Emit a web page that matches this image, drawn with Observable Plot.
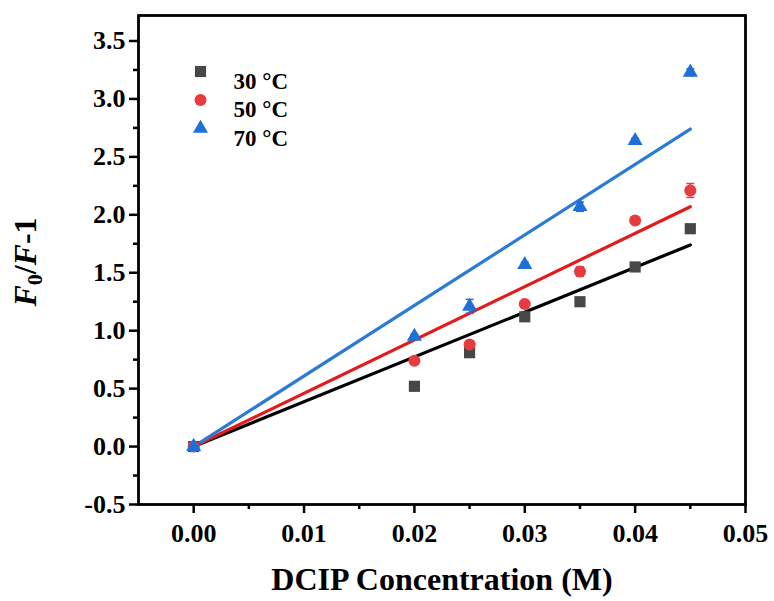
<!DOCTYPE html>
<html><head><meta charset="utf-8">
<script src="https://cdn.jsdelivr.net/npm/d3@7"></script>
<script src="https://cdn.jsdelivr.net/npm/@observablehq/plot@0.6"></script>
<style>body{margin:0;background:#fff}</style>
</head><body><div id="chart"></div>
<script>
const concentrations = [0, 0.02, 0.025, 0.03, 0.035, 0.04, 0.045];
const seriesNames = ["30 °C", "50 °C", "70 °C"];
const values30 = [0, 0.52, 0.81, 1.12, 1.25, 1.55, 1.88];
const values50 = [0, 0.74, 0.88, 1.23, 1.51, 1.95, 2.21];
const values70 = [0, 0.95, 1.21, 1.57, 2.07, 2.64, 3.23];
const errors30 = [0.01, 0.02, 0.03, 0.02, 0.02, 0.02, 0.02];
const errors50 = [0.01, 0.02, 0.03, 0.02, 0.04, 0.03, 0.06];
const errors70 = [0.01, 0.02, 0.06, 0.02, 0.04, 0.02, 0.03];
const fitX = [0, 0.045];
const fit30 = [0, 1.74];
const fit50 = [0, 2.07];
const fit70 = [0, 2.74];
const xTicks = [0, 0.01, 0.02, 0.03, 0.04, 0.05];
const xMinorTicks = [0.005, 0.015, 0.025, 0.035, 0.045];
const yTicks = [-0.5, 0, 0.5, 1.0, 1.5, 2.0, 2.5, 3.0, 3.5];
const yMinorTicks = [-0.25, 0.25, 0.75, 1.25, 1.75, 2.25, 2.75, 3.25];
const xTitle = "DCIP Concentration (M)";

const pointColors = ["#474747", "#e63b3f", "#1f6fd8"];
const lineColors = ["#000000", "#e41b1b", "#2b7bd6"];
const symbols = ["square", "circle", "triangle"];
const radii = [6.3, 6, 5.6];

const allValues = [values30, values50, values70];
const allErrors = [errors30, errors50, errors70];
const allFits = [fit30, fit50, fit70];

const points = allValues.map((vals, s) => concentrations.map((c, i) => ({
  x: c, y: vals[i], e: allErrors[s][i], s
})));
const fits = allFits.map((f, s) => fitX.map((x, i) => ({x, y: f[i], s})));

const capSymbol = {
  draw(context, size) {
    const w = Math.sqrt(size / Math.PI);
    context.moveTo(-w, 0);
    context.lineTo(w, 0);
  }
};

const marks = [];
fits.forEach((rows, s) => {
  marks.push(Plot.line(rows, {x: "x", y: "y", stroke: lineColors[s], strokeWidth: 3.2}));
});
points.forEach((rows, s) => {
  marks.push(Plot.ruleX(rows, {x: "x", y1: d => d.y - d.e, y2: d => d.y + d.e, stroke: pointColors[s], strokeWidth: 1.5}));
  marks.push(Plot.dot(rows, {x: "x", y: d => d.y + d.e, symbol: capSymbol, r: 4, stroke: pointColors[s], strokeWidth: 1.5}));
  marks.push(Plot.dot(rows, {x: "x", y: d => d.y - d.e, symbol: capSymbol, r: 4, stroke: pointColors[s], strokeWidth: 1.5}));
});
points.forEach((rows, s) => {
  marks.push(Plot.dot(rows, {x: "x", y: "y", symbol: symbols[s], r: radii[s], fill: pointColors[s], stroke: "none"}));
});
seriesNames.forEach((name, i) => {
  marks.push(Plot.dot([name], {frameAnchor: "top-left", dx: 62, dy: 56 + i * 28.5, symbol: symbols[i], r: radii[i], fill: pointColors[i]}));
  marks.push(Plot.text([name], {frameAnchor: "top-left", dx: 95, dy: 57 + i * 28.5, text: d => d, textAnchor: "start", fontSize: 23, fontWeight: "bold", fill: "black"}));
});
marks.push(Plot.axisY(yTicks, {tickSize: 9, tickPadding: 4, tickFormat: d => d.toFixed(1), strokeWidth: 2.5, label: null, fontSize: 26}));
marks.push(Plot.axisY(yMinorTicks, {tickSize: 5, text: null, strokeWidth: 2.5, label: null}));
marks.push(Plot.axisX(xTicks, {tickSize: 9, tickPadding: 10, tickFormat: d => d.toFixed(2), strokeWidth: 2.5, label: null, fontSize: 26}));
marks.push(Plot.axisX(xMinorTicks, {tickSize: 5, text: null, strokeWidth: 2.5, label: null}));
marks.push(Plot.frame({stroke: "black", strokeWidth: 2.8}));
marks.push(Plot.text([xTitle], {frameAnchor: "bottom", dy: 85, text: d => d, fontSize: 32, fontWeight: "bold", fill: "black"}));

const svg = Plot.plot({
  width: 774,
  height: 601,
  marginLeft: 138,
  marginRight: 29,
  marginTop: 15,
  marginBottom: 97,
  x: {domain: [-0.005, 0.05]},
  y: {domain: [-0.5, 3.72]},
  style: {font: "bold 26px 'Liberation Serif'", color: "black", background: "white"},
  marks
});

const yt = d3.select(svg).append("text")
  .attr("transform", "translate(36,262) rotate(-90)")
  .attr("text-anchor", "middle")
  .attr("font-family", "Liberation Serif")
  .attr("font-weight", "bold")
  .attr("font-size", 32)
  .attr("fill", "black");
yt.append("tspan").attr("font-style", "italic").text("F");
yt.append("tspan").attr("font-size", 22).attr("dy", 6).text("0");
yt.append("tspan").attr("dy", -6).text("/");
yt.append("tspan").attr("font-style", "italic").text("F");
yt.append("tspan").text("-1");

document.getElementById("chart").appendChild(svg);
</script>
</body></html>
